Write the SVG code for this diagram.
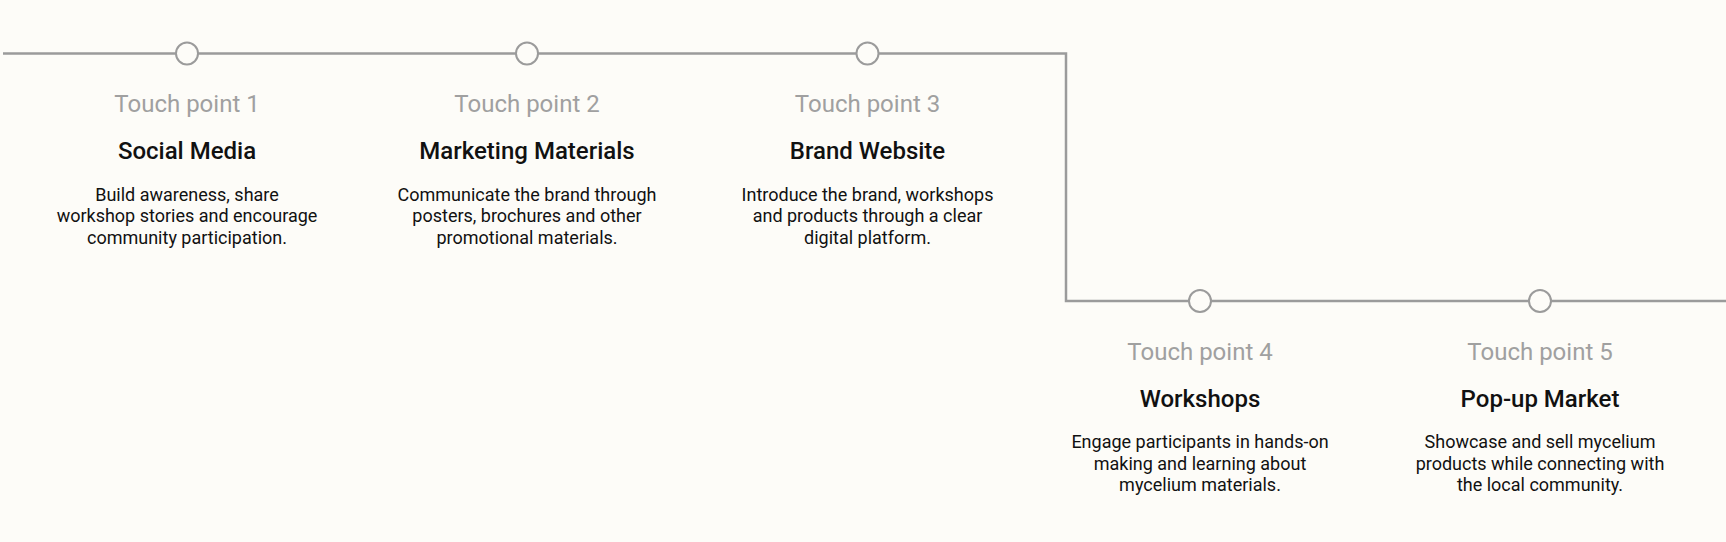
<svg xmlns="http://www.w3.org/2000/svg" width="1726" height="542" viewBox="0 0 1726 542">
<style>
.bg{fill:#fdfcf8}
.line{fill:none;stroke:#9b9b9b;stroke-width:2.5}
.dot{fill:#fdfcf8;stroke:#9b9b9b;stroke-width:2}
.tp{font-family:Roboto,"Liberation Sans",sans-serif;font-size:24px;fill:#a0a0a0;text-anchor:middle}
.ti{font-family:Roboto,"Liberation Sans",sans-serif;font-size:24px;font-weight:500;fill:#111;text-anchor:middle}
.ds{font-family:Roboto,"Liberation Sans",sans-serif;font-size:18px;fill:#111;text-anchor:middle}
</style>
<rect class="bg" x="0" y="0" width="1726" height="542"/>
<g id="connectors">
<path class="line" d="M3 53.5 H1066 V301 H1726"/>
</g>
<g id="tp1">
<circle class="dot" cx="187" cy="53.5" r="11"/>
<text class="tp" x="187" y="112">Touch point 1</text>
<text class="ti" x="187" y="159">Social Media</text>
<text class="ds" x="187" y="200.5">Build awareness, share</text>
<text class="ds" x="187" y="222">workshop stories and encourage</text>
<text class="ds" x="187" y="243.5">community participation.</text>
</g>
<g id="tp2">
<circle class="dot" cx="527" cy="53.5" r="11"/>
<text class="tp" x="527" y="112">Touch point 2</text>
<text class="ti" x="527" y="159">Marketing Materials</text>
<text class="ds" x="527" y="200.5">Communicate the brand through</text>
<text class="ds" x="527" y="222">posters, brochures and other</text>
<text class="ds" x="527" y="243.5">promotional materials.</text>
</g>
<g id="tp3">
<circle class="dot" cx="867.5" cy="53.5" r="11"/>
<text class="tp" x="867.5" y="112">Touch point 3</text>
<text class="ti" x="867.5" y="159">Brand Website</text>
<text class="ds" x="867.5" y="200.5">Introduce the brand, workshops</text>
<text class="ds" x="867.5" y="222">and products through a clear</text>
<text class="ds" x="867.5" y="243.5">digital platform.</text>
</g>
<g id="tp4">
<circle class="dot" cx="1200" cy="301" r="11"/>
<text class="tp" x="1200" y="360">Touch point 4</text>
<text class="ti" x="1200" y="407">Workshops</text>
<text class="ds" x="1200" y="448">Engage participants in hands-on</text>
<text class="ds" x="1200" y="469.5">making and learning about</text>
<text class="ds" x="1200" y="491">mycelium materials.</text>
</g>
<g id="tp5">
<circle class="dot" cx="1540" cy="301" r="11"/>
<text class="tp" x="1540" y="360">Touch point 5</text>
<text class="ti" x="1540" y="407">Pop-up Market</text>
<text class="ds" x="1540" y="448">Showcase and sell mycelium</text>
<text class="ds" x="1540" y="469.5">products while connecting with</text>
<text class="ds" x="1540" y="491">the local community.</text>
</g>
</svg>
